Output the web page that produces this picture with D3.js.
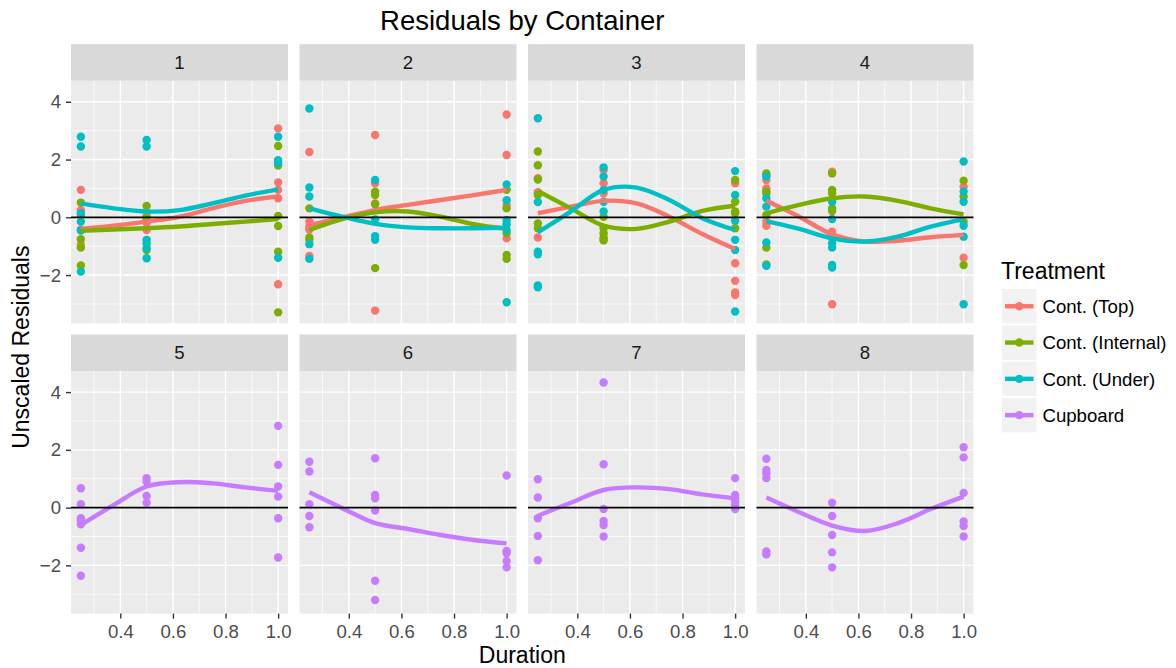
<!DOCTYPE html>
<html>
<head>
<meta charset="utf-8">
<script src="https://cdn.jsdelivr.net/npm/d3@7"></script>
<style>
  body { margin: 0; background: #ffffff; }
  svg { display: block; }
  text { font-family: "Liberation Sans", Arial, Helvetica, sans-serif; }
</style>
</head>
<body>
<svg id="chart" width="1176" height="668"></svg>
<script>
// ---- data ---------------------------------------------------------------
const treatments = ["Cont. (Top)", "Cont. (Internal)", "Cont. (Under)", "Cupboard"];
const treatmentColors = ["#F8766D", "#7CAE00", "#00BFC4", "#C77CFF"];
const containers = [1, 2, 3, 4, 5, 6, 7, 8];
const durations = [0.25, 0.5, 1.0];

const xTicks = [0.4, 0.6, 0.8, 1.0];
const xMinorTicks = [0.3, 0.5, 0.7, 0.9];
const yTicks = [-2, 0, 2, 4];
const yMinorTicks = [-3, -1, 1, 3];

// residuals per container: one list per duration (0.25, 0.5, 1.0)
const residTop = {
  1: [[0.95, 0.25, 0.08, -0.42, -0.96], [-0.2, -0.44, -0.1, 0.05], [3.08, 1.21, 0.95, 0.66, -2.32]],
  2: [[2.26, -0.15, -0.32, -0.42, -1.34], [2.85, 1.18, 0.48, -3.23], [3.56, 2.16, 0.43, -0.73]],
  3: [[1.35, 0.87, -0.70], [1.64, 1.18, 0.83, -0.78], [1.18, -1.59, -2.2, -2.6, -2.69]],
  4: [[1.46, 1.29, 1.0, -0.15, -0.29], [1.58, -0.5, -3.01], [1.06, -1.40]]
};
const residInternal = {
  1: [[0.51, -0.76, -1.05, -1.67], [0.39, -0.03, -1.13], [2.47, 1.79, 0.05, -0.3, -1.19, -3.29]],
  2: [[0.31, -0.70, -0.78], [0.89, 0.77, 0.45, -1.76], [0.95, 0.31, -0.55, -1.30, -1.44]],
  3: [[2.28, 1.8, 1.31, 0.77, -0.21, -0.38], [0.02, -0.38, -0.55, -0.70, -0.8], [1.29, 0.54, 0.2, 0.14, -0.38]],
  4: [[1.52, 0.89, 0.83, 0.08, -1.05, -1.63], [1.52, 0.95, 0.83, 0.31, 0.22], [1.27, 0.72, -0.15, -1.65]]
};
const residUnder = {
  1: [[2.79, 2.45, 0.14, -0.15, -0.46, -1.88], [2.68, 2.45, -0.78, -0.9, -1.07, -1.42], [2.79, 1.98, 1.87, -1.4]],
  2: [[3.77, 1.03, 0.72, -0.93, -1.44], [1.29, -0.07, -0.65, -0.78], [1.14, 0.59, -0.09, -0.24, -0.44, -2.94]],
  3: [[3.43, 0.53, -1.19, -1.28, -2.36, -2.42], [1.73, 1.41, 0.95, 0.54, 0.2], [1.60, 0.77, -0.12, -0.78, -1.13, -3.26]],
  4: [[1.41, 0.66, 0.37, -0.87, -1.68], [0.54, -0.06, -0.9, -1.05, -1.65, -1.74], [1.93, 0.89, 0.54, -0.29, -0.67, -3.01]]
};
const residCupboard = {
  5: [[0.67, 0.12, -0.37, -0.46, -0.58, -1.39, -2.36], [1.02, 0.9, 0.40, 0.17], [2.83, 1.48, 0.73, 0.38, -0.37, -1.73]],
  6: [[1.59, 1.25, 0.12, -0.29, -0.68], [1.71, 0.44, 0.32, -0.1, -2.53, -3.2], [1.11, -1.5, -1.58, -1.85, -2.07]],
  7: [[0.98, 0.35, -0.37, -0.98, -1.82], [4.33, 1.5, -0.05, -0.46, -0.6, -1.0], [1.02, 0.44, 0.32, 0.21, 0.09, -0.05]],
  8: [[1.69, 1.3, 1.19, 1.02, -1.52, -1.62], [0.17, -0.29, -0.95, -1.55, -2.07], [2.09, 1.74, 0.51, -0.48, -0.64, -1.0]]
};

// fitted smooth (loess) values, sampled at smoothX
const smoothX = [0.25, 0.375, 0.5, 0.625, 0.75, 0.875, 1.0];
const smoothTop = {
  1: [-0.40, -0.29, -0.15, 0.02, 0.31, 0.57, 0.72],
  2: [-0.27, -0.01, 0.25, 0.43, 0.60, 0.77, 0.95],
  3: [0.14, 0.37, 0.57, 0.48, 0.02, -0.58, -1.10],
  4: [0.57, 0.02, -0.59, -0.84, -0.81, -0.69, -0.61]
};
const smoothInternal = {
  1: [-0.47, -0.42, -0.38, -0.32, -0.23, -0.15, -0.06],
  2: [-0.44, -0.06, 0.17, 0.20, 0.02, -0.24, -0.40],
  3: [0.91, 0.31, -0.29, -0.40, -0.15, 0.22, 0.40],
  4: [0.14, 0.43, 0.66, 0.72, 0.57, 0.31, 0.10]
};
const smoothUnder = {
  1: [0.48, 0.31, 0.20, 0.25, 0.48, 0.75, 0.97],
  2: [0.31, 0.02, -0.23, -0.35, -0.38, -0.38, -0.36],
  3: [-0.52, 0.20, 0.95, 1.03, 0.60, -0.03, -0.44],
  4: [-0.13, -0.40, -0.73, -0.84, -0.67, -0.32, -0.06]
};
const smoothCupboard = {
  5: [-0.60, 0.09, 0.73, 0.88, 0.84, 0.70, 0.58],
  6: [0.53, -0.02, -0.54, -0.74, -0.95, -1.12, -1.24],
  7: [-0.28, 0.17, 0.61, 0.70, 0.64, 0.46, 0.32],
  8: [0.35, -0.16, -0.62, -0.81, -0.54, -0.05, 0.38]
};

const residSets = [residTop, residInternal, residUnder, residCupboard];
const smoothSets = [smoothTop, smoothInternal, smoothUnder, smoothCupboard];

// ---- layout -------------------------------------------------------------
const svg = d3.select("#chart");
const panelW = 217, panelH = 242.6, stripH = 36.5;
const panelLeft0 = 71, panelStrideX = 228.5;
const panelTop0 = 80.7, panelStrideY = 290.3;
const nCols = 4;

const x = d3.scaleLinear().domain([0.2125, 1.0375]).range([0, panelW]);
const y = d3.scaleLinear().domain([-3.67, 4.73]).range([panelH, 0]);

const colOf = c => (c - 1) % nCols;
const rowOf = c => Math.floor((c - 1) / nCols);

// flatten residuals into point records
const points = [];
residSets.forEach((set, ti) => {
  Object.keys(set).forEach(key => {
    const c = +key;
    set[key].forEach((vals, di) => {
      vals.forEach(v => points.push({ container: c, treatment: ti, duration: durations[di], resid: v }));
    });
  });
});

const smooths = [];
smoothSets.forEach((set, ti) => {
  Object.keys(set).forEach(key => {
    smooths.push({ container: +key, treatment: ti, values: set[key].map((v, i) => [smoothX[i], v]) });
  });
});

const line = d3.line()
  .x(d => x(d[0]))
  .y(d => y(d[1]))
  .curve(d3.curveCatmullRom.alpha(0.5));

const tickFont = 18.6;
const titleFont = 23;
const pointR = 4.2;
const smoothWidth = 4.4;

containers.forEach(c => {
  const px = panelLeft0 + colOf(c) * panelStrideX;
  const py = panelTop0 + rowOf(c) * panelStrideY;
  const g = svg.append("g").attr("transform", `translate(${px},${py})`);

  // strip
  svg.append("rect")
    .attr("x", px).attr("y", py - stripH)
    .attr("width", panelW).attr("height", stripH)
    .attr("fill", "#D9D9D9");
  svg.append("text")
    .attr("x", px + panelW / 2).attr("y", py - stripH / 2)
    .attr("dy", "0.36em")
    .attr("text-anchor", "middle")
    .attr("font-size", tickFont)
    .attr("fill", "#1A1A1A")
    .text(c);

  // panel background + grid
  g.append("rect").attr("width", panelW).attr("height", panelH).attr("fill", "#EBEBEB");
  g.selectAll(".gxm").data(xMinorTicks).join("line")
    .attr("x1", d => x(d)).attr("x2", d => x(d)).attr("y1", 0).attr("y2", panelH)
    .attr("stroke", "#FFFFFF").attr("stroke-width", 0.7);
  g.selectAll(".gym").data(yMinorTicks).join("line")
    .attr("y1", d => y(d)).attr("y2", d => y(d)).attr("x1", 0).attr("x2", panelW)
    .attr("stroke", "#FFFFFF").attr("stroke-width", 0.7);
  g.selectAll(".gx").data(xTicks).join("line")
    .attr("x1", d => x(d)).attr("x2", d => x(d)).attr("y1", 0).attr("y2", panelH)
    .attr("stroke", "#FFFFFF").attr("stroke-width", 1.4);
  g.selectAll(".gy").data(yTicks).join("line")
    .attr("y1", d => y(d)).attr("y2", d => y(d)).attr("x1", 0).attr("x2", panelW)
    .attr("stroke", "#FFFFFF").attr("stroke-width", 1.4);

  // points
  g.selectAll(".pt").data(points.filter(p => p.container === c)).join("circle")
    .attr("cx", d => x(d.duration)).attr("cy", d => y(d.resid)).attr("r", pointR)
    .attr("fill", d => treatmentColors[d.treatment]);

  // smooth curves
  g.selectAll(".sm").data(smooths.filter(s => s.container === c)).join("path")
    .attr("d", d => line(d.values))
    .attr("fill", "none")
    .attr("stroke", d => treatmentColors[d.treatment])
    .attr("stroke-width", smoothWidth)
    .attr("stroke-linecap", "butt");

  // reference line at zero
  g.append("line")
    .attr("x1", 0).attr("x2", panelW).attr("y1", y(0)).attr("y2", y(0))
    .attr("stroke", "#000000").attr("stroke-width", 1.7);

  // y axis on first column
  if (colOf(c) === 0) {
    const ya = d3.axisLeft(y).tickValues(yTicks).tickSize(5).tickPadding(5)
      .tickFormat(d => d < 0 ? "\u2212" + Math.abs(d) : String(d));
    const ag = g.append("g").call(ya);
    ag.select(".domain").remove();
    ag.selectAll(".tick line").attr("stroke", "#333333").attr("stroke-width", 1.4);
    ag.selectAll(".tick text").attr("fill", "#4D4D4D").attr("font-size", tickFont)
      .attr("font-family", '"Liberation Sans", Arial, sans-serif');
  }
  // x axis on bottom row
  if (rowOf(c) === 1) {
    const xa = d3.axisBottom(x).tickValues(xTicks).tickSize(5).tickPadding(6.5)
      .tickFormat(d3.format(".1f"));
    const ag = g.append("g").attr("transform", `translate(0,${panelH})`).call(xa);
    ag.select(".domain").remove();
    ag.selectAll(".tick line").attr("stroke", "#333333").attr("stroke-width", 1.4);
    ag.selectAll(".tick text").attr("fill", "#4D4D4D").attr("font-size", tickFont)
      .attr("font-family", '"Liberation Sans", Arial, sans-serif');
  }
});

// ---- titles -------------------------------------------------------------
const plotCenterX = panelLeft0 + (3 * panelStrideX + panelW) / 2;
svg.append("text")
  .attr("x", plotCenterX).attr("y", 30)
  .attr("text-anchor", "middle").attr("font-size", 27.5).attr("fill", "#000000")
  .text("Residuals by Container");
svg.append("text")
  .attr("x", plotCenterX).attr("y", 663)
  .attr("text-anchor", "middle").attr("font-size", titleFont).attr("fill", "#000000")
  .text("Duration");
const plotCenterY = (panelTop0 - stripH + panelTop0 + panelStrideY + panelH) / 2 + stripH / 2;
svg.append("text")
  .attr("transform", `translate(29,${plotCenterY}) rotate(-90)`)
  .attr("text-anchor", "middle").attr("font-size", titleFont).attr("fill", "#000000")
  .text("Unscaled Residuals");

// ---- legend -------------------------------------------------------------
const legend = svg.append("g").attr("transform", "translate(1001,0)");
legend.append("text").attr("x", 0).attr("y", 279)
  .attr("font-size", titleFont).attr("fill", "#000000").text("Treatment");
const keySize = 34.5, keyTop = 289, keyStride = 36.3;
const keys = legend.selectAll(".key").data(treatments).join("g")
  .attr("transform", (d, i) => `translate(1,${keyTop + i * keyStride})`);
keys.append("rect").attr("width", keySize).attr("height", keySize).attr("fill", "#F2F2F2");
keys.append("line")
  .attr("x1", 3).attr("x2", keySize - 3).attr("y1", keySize / 2).attr("y2", keySize / 2)
  .attr("stroke", (d, i) => treatmentColors[i]).attr("stroke-width", smoothWidth);
keys.append("circle")
  .attr("cx", keySize / 2).attr("cy", keySize / 2).attr("r", pointR)
  .attr("fill", (d, i) => treatmentColors[i]);
keys.append("text")
  .attr("x", keySize + 6).attr("y", keySize / 2).attr("dy", "0.36em")
  .attr("font-size", tickFont).attr("fill", "#000000")
  .text(d => d);
</script>
</body>
</html>
